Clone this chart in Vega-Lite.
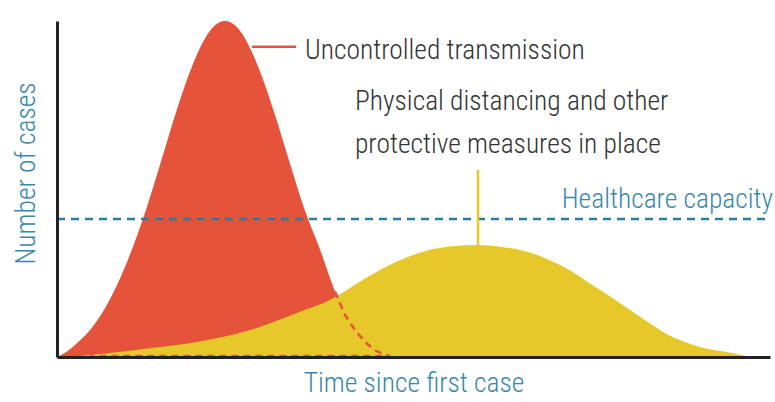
{
  "$schema": "https://vega.github.io/schema/vega-lite/v6.json",
  "autosize": {"type": "none"},
  "width": 713,
  "height": 336,
  "padding": {"left": 57, "top": 21, "right": 5, "bottom": 45},
  "background": "white",
  "config": {
    "view": {"stroke": null},
    "font": "Roboto Condensed, DejaVu Sans Condensed, sans-serif"
  },
  "datasets": {
    "red": [
      {"t": 57, "v": 0}, {"t": 65, "v": 1.3}, {"t": 75, "v": 3.6}, {"t": 90, "v": 8},
      {"t": 105, "v": 14.5}, {"t": 117, "v": 21.4}, {"t": 130, "v": 30.5}, {"t": 145, "v": 42.9},
      {"t": 160, "v": 57.2}, {"t": 175, "v": 71.9}, {"t": 190, "v": 85}, {"t": 205, "v": 94.8},
      {"t": 215, "v": 98.7}, {"t": 225, "v": 100}, {"t": 235, "v": 98.7}, {"t": 245, "v": 94.8},
      {"t": 260, "v": 85}, {"t": 275, "v": 72}, {"t": 290, "v": 57.5}, {"t": 305, "v": 43.5},
      {"t": 320, "v": 32}, {"t": 335, "v": 19.5}, {"t": 345, "v": 12.5}, {"t": 355, "v": 8},
      {"t": 365, "v": 4.5}, {"t": 375, "v": 2}, {"t": 385, "v": 0.5}, {"t": 390, "v": 0}
    ],
    "yellow": [
      {"t": 57, "v": 0}, {"t": 80, "v": 0.3}, {"t": 100, "v": 0.9}, {"t": 150, "v": 2.6},
      {"t": 200, "v": 4.6}, {"t": 250, "v": 8}, {"t": 300, "v": 13.5}, {"t": 330, "v": 17},
      {"t": 363, "v": 23}, {"t": 397, "v": 28.4}, {"t": 430, "v": 31.9}, {"t": 455, "v": 33},
      {"t": 477, "v": 33.3}, {"t": 500, "v": 32.8}, {"t": 530, "v": 31.1}, {"t": 563, "v": 26.9},
      {"t": 597, "v": 20.5}, {"t": 630, "v": 14}, {"t": 650, "v": 10}, {"t": 667, "v": 6.8},
      {"t": 685, "v": 4.5}, {"t": 700, "v": 3}, {"t": 717, "v": 1.9}, {"t": 733, "v": 1.1},
      {"t": 747, "v": 0.3}, {"t": 760, "v": 0}
    ],
    "reddash": [
      {"o": 1, "t": 335, "v": 19.5}, {"o": 2, "t": 345, "v": 12.5}, {"o": 3, "t": 355, "v": 8},
      {"o": 4, "t": 365, "v": 4.5}, {"o": 5, "t": 375, "v": 2}, {"o": 6, "t": 385, "v": 0.6},
      {"o": 7, "t": 390, "v": 0.3}, {"o": 8, "t": 90, "v": 0.3}
    ],
    "labelsLeft": [
      {"t": 305, "v": 88.7, "label": "Uncontrolled transmission"},
      {"t": 355, "v": 73.5, "label": "Physical distancing and other"},
      {"t": 355, "v": 60.7, "label": "protective measures in place"}
    ],
    "labelsRight": [
      {"t": 773, "v": 44.3, "label": "Healthcare capacity"}
    ]
  },
  "layer": [
    {
      "data": {"name": "red"},
      "mark": {"type": "area", "color": "#e5533a", "interpolate": "monotone"},
      "encoding": {
        "x": {
          "field": "t", "type": "quantitative",
          "scale": {"domain": [57, 770], "nice": false, "zero": false},
          "axis": {
            "title": "Time since first case", "ticks": false, "labels": false, "grid": false,
            "domainColor": "#222222", "domainWidth": 3, "zindex": 1,
            "titleFont": "Roboto Condensed, DejaVu Sans Condensed, sans-serif",
            "titleFontSize": 27.5, "titleFontWeight": 300, "titleColor": "#3a88ab", "titlePadding": 12
          }
        },
        "y": {
          "field": "v", "type": "quantitative",
          "scale": {"domain": [0, 100], "nice": false},
          "axis": {
            "title": "Number of cases", "ticks": false, "labels": false, "grid": false,
            "domainColor": "#222222", "domainWidth": 3, "zindex": 1,
            "titleFont": "Roboto Condensed, DejaVu Sans Condensed, sans-serif",
            "titleFontSize": 27.5, "titleFontWeight": 300, "titleColor": "#3a88ab", "titlePadding": 17,
            "titleY": 152
          }
        }
      }
    },
    {
      "data": {"name": "yellow"},
      "mark": {"type": "area", "color": "#e7c82a", "interpolate": "monotone"},
      "encoding": {
        "x": {"field": "t", "type": "quantitative"},
        "y": {"field": "v", "type": "quantitative"}
      }
    },
    {
      "data": {"name": "reddash"},
      "mark": {"type": "line", "color": "#e5533a", "strokeWidth": 2.5, "strokeDash": [7, 5], "interpolate": "linear"},
      "encoding": {
        "x": {"field": "t", "type": "quantitative"},
        "y": {"field": "v", "type": "quantitative"},
        "order": {"field": "o", "type": "quantitative"}
      }
    },
    {
      "data": {"values": [{"t": 57, "t2": 770, "v": 41.1}]},
      "mark": {"type": "rule", "color": "#2a7ca2", "strokeWidth": 2.5, "strokeDash": [8, 6]},
      "encoding": {
        "x": {"field": "t", "type": "quantitative"},
        "x2": {"field": "t2"},
        "y": {"field": "v", "type": "quantitative"}
      }
    },
    {
      "data": {"values": [{"t": 478, "v": 33.3, "v2": 55.7}]},
      "mark": {"type": "rule", "color": "#e7c82a", "strokeWidth": 2.5},
      "encoding": {
        "x": {"field": "t", "type": "quantitative"},
        "y": {"field": "v", "type": "quantitative"},
        "y2": {"field": "v2"}
      }
    },
    {
      "data": {"values": [{"t": 252, "t2": 296, "v": 92.3}]},
      "mark": {"type": "rule", "color": "#e5533a", "strokeWidth": 2.5},
      "encoding": {
        "x": {"field": "t", "type": "quantitative"},
        "x2": {"field": "t2"},
        "y": {"field": "v", "type": "quantitative"}
      }
    },
    {
      "data": {"name": "labelsLeft"},
      "mark": {"type": "text", "fontSize": 27.5, "fontWeight": 300, "baseline": "alphabetic", "align": "left", "color": "#333333"},
      "encoding": {
        "x": {"field": "t", "type": "quantitative"},
        "y": {"field": "v", "type": "quantitative"},
        "text": {"field": "label"}
      }
    },
    {
      "data": {"name": "labelsRight"},
      "mark": {"type": "text", "fontSize": 27.5, "fontWeight": 300, "baseline": "alphabetic", "align": "right", "color": "#3a88ab"},
      "encoding": {
        "x": {"field": "t", "type": "quantitative"},
        "y": {"field": "v", "type": "quantitative"},
        "text": {"field": "label"}
      }
    }
  ]
}
